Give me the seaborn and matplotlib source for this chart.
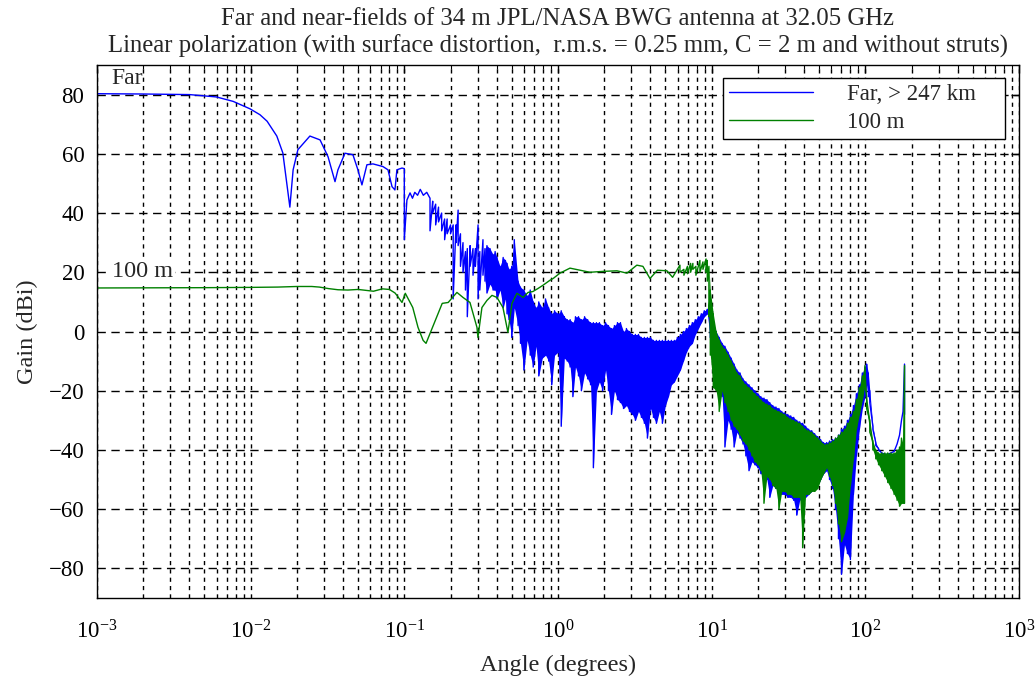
import numpy as np
import pandas as pd
import seaborn as sns
import matplotlib
matplotlib.use("Agg")
import matplotlib.pyplot as plt
from matplotlib.ticker import LogLocator, FixedLocator, NullFormatter

# Far field (> 247 km). angle in degrees, gain in dBi.
# hi / lo = top and bottom of the trace at that angle (same value where the trace is a single line)
far_angle = [0.001, 0.002, 0.004, 0.006, 0.0077, 0.0099, 0.0115, 0.0128, 0.0148, 0.0162,
             0.0175, 0.018, 0.0189, 0.0203, 0.0243, 0.0283, 0.0319, 0.0354, 0.037, 0.0411,
             0.0463, 0.0499, 0.053, 0.0571, 0.0625, 0.0726, 0.0783, 0.0832, 0.0869, 0.0895,
             0.0966, 0.1, 0.104, 0.109, 0.113, 0.117, 0.122, 0.127, 0.133, 0.14,
             0.147, 0.153, 0.16, 0.167, 0.175, 0.183, 0.19, 0.2, 0.208, 0.217,
             0.224, 0.232, 0.241, 0.25, 0.257, 0.268, 0.28, 0.29, 0.302, 0.31,
             0.325, 0.335, 0.345, 0.361, 0.378, 0.39, 0.401, 0.42, 0.44, 0.455,
             0.466, 0.48, 0.5, 0.52, 0.55, 0.57, 0.6, 0.63, 0.66, 0.69,
             0.72, 0.75, 0.79, 0.83, 0.87, 0.91, 0.95, 1.0, 1.05, 1.1,
             1.15, 1.2, 1.25, 1.3, 1.36, 1.42, 1.49, 1.56, 1.63, 1.7,
             1.78, 1.86, 1.95, 2.04, 2.13, 2.23, 2.33, 2.44, 2.55, 2.67,
             2.79, 2.92, 3.05, 3.19, 3.34, 3.49, 3.65, 3.82, 4.0, 4.18,
             4.37, 4.57, 4.78, 5.0, 5.23, 5.47, 5.72, 5.98, 6.26, 6.55,
             6.85, 7.16, 7.49, 7.83, 8.19, 8.57, 8.96, 9.37, 9.8, 10.25,
             10.7, 11.2, 11.7, 12.2, 12.8, 13.4, 14.0, 14.6, 15.3, 16.0,
             16.7, 17.5, 18.3, 19.1, 20.0, 20.9, 21.9, 22.9, 23.9, 25.0,
             26.2, 27.4, 28.6, 29.9, 31.3, 32.7, 34.2, 35.8, 37.4, 39.1,
             40.9, 42.8, 44.8, 46.8, 49.0, 51.2, 53.5, 56.0, 58.5, 61.2,
             64.0, 66.9, 70.0, 73.2, 76.5, 80.0, 83.7, 87.5, 91.5, 95.7,
             99.5, 102, 104.6, 107, 112, 117, 122, 128, 134, 140,
             147, 154, 161, 167, 172, 176, 180]
far_hi = [80.3, 80.2, 80.0, 79.2, 77.7, 75.2, 73.2, 71.0, 66.0, 60.3,
          47.0, 42.0, 54.6, 61.4, 66.0, 64.7, 59.0, 50.6, 54.6, 60.2,
          59.7, 54.6, 49.5, 56.3, 56.6, 55.7, 54.6, 48.9, 47.8, 54.6,
          55.2, 55.0, 44.4, 46.8, 45.0, 47.0, 46.0, 48.0, 46.0, 47.0,
          45.0, 44.0, 43.0, 42.0, 40.0, 38.0, 38.0, 36.0, 36.0, 36.0,
          41.0, 33.0, 30.0, 27.0, 28.0, 29.0, 28.0, 28.0, 36.0, 27.0,
          31.0, 28.0, 29.0, 28.0, 26.0, 27.0, 25.0, 22.0, 25.0, 24.0,
          23.0, 21.0, 22.0, 31.0, 17.0, 15.0, 14.0, 12.0, 14.0, 10.0,
          8.0, 10.0, 8.0, 11.0, 8.0, 6.0, 7.0, 6.0, 7.0, 5.0,
          4.0, 4.0, 3.0, 5.0, 5.0, 4.0, 5.0, 4.0, 3.0, 3.0,
          3.0, 3.0, 2.0, 3.0, 2.0, 1.0, 2.0, 3.0, 3.0, 0.0,
          1.0, 0.0, -1.0, -1.0, -1.0, -2.0, -2.0, -2.0, -2.0, -3.0,
          -3.0, -3.0, -3.0, -3.0, -3.0, -3.0, -3.0, -2.0, -1.0, 0.0,
          1.0, 2.0, 3.0, 4.0, 5.0, 6.0, 7.0, 7.5, 6.0, 3.0,
          0.0, -2.0, -4.0, -5.0, -7.0, -9.0, -11.0, -13.0, -14.0, -16.0,
          -17.0, -18.0, -19.0, -20.0, -21.0, -22.0, -22.5, -23.0, -24.0, -25.0,
          -25.5, -26.0, -27.0, -27.5, -28.0, -28.5, -29.0, -30.0, -30.5, -31.0,
          -32.0, -33.0, -33.5, -34.5, -35.5, -36.5, -37.5, -37.5, -37.0, -36.5,
          -36.0, -35.0, -33.0, -32.0, -30.0, -28.0, -25.0, -21.0, -18.0, -14.0,
          -12.0, -11.0, -14.0, -20.0, -32.0, -37.5, -39.5, -41.0, -41.5, -41.5,
          -41.0, -40.5, -38.0, -35.0, -30.0, -27.0, -11.0]
far_lo = [80.3, 80.2, 80.0, 79.2, 77.7, 75.2, 73.2, 71.0, 66.0, 60.3,
          47.0, 42.0, 54.6, 61.4, 66.0, 64.7, 59.0, 50.6, 54.6, 60.2,
          59.7, 54.6, 49.5, 56.3, 56.6, 55.7, 54.6, 48.9, 47.8, 54.6,
          55.2, 31.0, 44.4, 46.8, 45.0, 47.0, 46.0, 48.0, 46.0, 47.0,
          34.0, 40.0, 36.0, 37.0, 34.0, 31.0, 33.0, 33.0, 11.0, 30.0,
          29.0, 22.0, 20.0, 14.0, 5.0, 22.0, 19.0, 22.0, 11.0, 14.0,
          19.0, 17.0, 13.0, 16.0, 14.0, 14.0, 11.0, 14.0, 8.0, 11.0,
          6.0, 4.0, -2.0, 8.0, 2.0, -4.0, -13.0, -3.0, -8.0, -12.0,
          -5.0, -15.0, -9.0, -8.0, -10.0, -18.0, -8.0, -7.0, -32.0, -9.0,
          -10.0, -12.0, -22.0, -12.0, -15.0, -20.0, -14.0, -16.0, -18.0, -46.0,
          -20.0, -17.0, -20.0, -13.0, -20.0, -28.0, -20.0, -23.0, -24.0, -26.0,
          -25.0, -27.0, -28.0, -30.0, -27.0, -29.0, -31.0, -36.0, -26.0, -29.0,
          -31.0, -27.0, -31.0, -25.0, -22.0, -18.0, -17.0, -15.0, -13.0, -10.0,
          -7.0, -5.0, -4.0, -1.0, 1.0, 3.0, 5.0, 6.0, -2.0, -12.0,
          -16.0, -18.0, -22.0, -39.0, -30.0, -33.0, -39.0, -34.0, -36.0, -38.0,
          -42.0, -47.0, -44.0, -45.0, -46.0, -48.0, -49.0, -50.0, -56.0, -52.0,
          -53.0, -54.0, -55.0, -55.0, -56.0, -56.0, -57.0, -62.0, -57.0, -56.0,
          -56.0, -55.0, -54.0, -53.0, -52.0, -50.0, -48.0, -47.0, -50.0, -53.0,
          -60.0, -70.0, -82.0, -72.0, -75.0, -77.0, -55.0, -42.0, -33.0, -26.0,
          -22.0, -18.0, -22.0, -24.0, -33.0, -38.5, -40.0, -41.0, -41.5, -41.5,
          -41.0, -40.5, -38.0, -35.0, -30.0, -27.0, -28.0]

# Near field (100 m)
near_angle = [0.001, 0.005, 0.01, 0.015, 0.02, 0.025, 0.028, 0.032, 0.037, 0.043,
              0.05, 0.056, 0.063, 0.072, 0.08, 0.087, 0.0895, 0.0966, 0.1015, 0.1135,
              0.1228, 0.1326, 0.1385, 0.147, 0.159, 0.1765, 0.193, 0.22, 0.241, 0.2675,
              0.297, 0.3015, 0.32, 0.345, 0.372, 0.401, 0.4385, 0.4725, 0.502, 0.541,
              0.592, 0.639, 0.687, 0.74, 0.798, 0.887, 0.93, 1.03, 1.197, 1.39,
              1.615, 1.96, 2.42, 2.81, 3.26, 3.57, 3.97, 4.44, 5.12, 5.57,
              6.22, 6.6, 6.96, 7.3, 7.55, 7.9, 8.39, 8.78, 9.2, 9.37,
              9.6, 9.8, 10.25, 10.7, 11.2, 11.7, 12.2, 12.8, 13.4, 14.0,
              14.6, 15.3, 16.0, 16.7, 17.5, 18.3, 19.1, 20.0, 20.9, 21.9,
              22.9, 23.9, 25.0, 26.2, 27.4, 28.6, 29.9, 31.3, 32.7, 34.2,
              35.8, 37.4, 39.1, 40.9, 42.8, 44.8, 46.8, 49.0, 51.2, 53.5,
              56.0, 58.5, 61.2, 64.0, 66.9, 70.0, 73.2, 76.5, 80.0, 83.7,
              87.5, 91.5, 95.7, 99.5, 102, 107, 112, 117, 122, 128,
              134, 140, 147, 154, 161, 167, 172, 176, 180]
near_hi = [14.7, 14.8, 14.9, 15.0, 15.2, 15.2, 15.0, 14.5, 14.1, 14.0,
           14.2, 13.9, 13.6, 14.4, 14.2, 13.0, 12.2, 9.8, 12.9, 8.1,
           1.4, -3.0, -4.0, -0.7, 3.7, 9.5, 9.8, 13.2, 11.5, 9.8,
           1.4, -2.0, 8.1, 10.5, 12.2, 11.5, 8.1, -0.3, 9.5, 12.9,
           11.5, 13.2, 13.5, 14.5, 15.6, 17.3, 17.9, 19.7, 21.4, 20.7,
           20.0, 20.3, 20.5, 19.7, 22.4, 22.0, 17.9, 20.7, 20.5, 18.3,
           22.4, 21.0, 22.0, 23.0, 23.0, 22.0, 24.0, 23.5, 24.5, 24.0,
           22.0, 14.0, 6.0, 0.0, -3.0, -5.0, -6.0, -8.0, -10.0, -12.0,
           -14.0, -15.0, -17.0, -18.0, -19.0, -20.0, -21.0, -22.0, -23.0, -24.0,
           -24.5, -25.0, -26.0, -26.5, -27.0, -27.5, -28.0, -29.0, -29.5, -30.0,
           -30.5, -31.0, -32.0, -33.0, -33.5, -34.0, -35.0, -36.0, -37.0, -38.0,
           -38.0, -37.5, -37.0, -36.0, -35.0, -34.0, -33.0, -31.0, -29.0, -27.0,
           -23.0, -19.0, -15.0, -11.5, -22.0, -30.0, -37.0, -40.0, -41.0, -41.0,
           -41.0, -41.0, -41.0, -41.0, -40.0, -39.0, -36.0, -38.0, -11.5]
near_lo = [14.7, 14.8, 14.9, 15.0, 15.2, 15.2, 15.0, 14.5, 14.1, 14.0,
           14.2, 13.9, 13.6, 14.4, 14.2, 13.0, 12.2, 9.8, 12.9, 8.1,
           1.4, -3.0, -4.0, -0.7, 3.7, 9.5, 9.8, 13.2, 11.5, 9.8,
           1.4, -2.0, 8.1, 10.5, 12.2, 11.5, 8.1, -0.3, 9.5, 12.9,
           11.5, 13.2, 13.5, 14.5, 15.6, 17.3, 17.9, 19.7, 21.4, 20.7,
           20.0, 20.3, 20.5, 19.7, 22.4, 22.0, 17.9, 20.7, 20.5, 18.3,
           20.0, 19.0, 19.5, 20.0, 21.0, 19.0, 20.0, 21.0, 20.0, 17.0,
           5.0, -8.0, -19.0, -20.0, -27.0, -20.0, -24.0, -27.0, -30.0, -32.0,
           -33.0, -35.0, -37.0, -38.0, -40.0, -42.0, -44.0, -45.0, -47.0, -58.0,
           -49.0, -50.0, -52.0, -53.0, -60.0, -54.0, -54.0, -55.0, -55.0, -56.0,
           -56.0, -56.0, -73.0, -55.0, -55.0, -54.0, -54.0, -53.0, -50.0, -48.0,
           -46.0, -49.0, -52.0, -58.0, -65.0, -71.0, -68.0, -63.0, -52.0, -43.0,
           -33.0, -28.0, -23.0, -18.0, -26.0, -34.0, -40.0, -43.0, -45.0, -47.0,
           -49.0, -51.0, -53.0, -55.0, -57.0, -59.0, -58.0, -58.0, -58.0]

x_ticks = [1e-3, 1e-2, 1e-1, 1e0, 1e1, 1e2, 1e3]
x_tick_labels = [r"$10^{-3}$", r"$10^{-2}$", r"$10^{-1}$", r"$10^{0}$",
                 r"$10^{1}$", r"$10^{2}$", r"$10^{3}$"]
y_ticks = [-80, -60, -40, -20, 0, 20, 40, 60, 80]
y_tick_labels = ["\u221280", "\u221260", "\u221240", "\u221220", "0", "20", "40", "60", "80"]

sns.set_style("white")
plt.rcParams["font.family"] = ["Liberation Serif", "DejaVu Serif"]
plt.rcParams["mathtext.fontset"] = "custom"
plt.rcParams["mathtext.rm"] = "Liberation Serif"
plt.rcParams["mathtext.it"] = "Liberation Serif:italic"


def trace(angle, hi, lo):
    # each angle is visited twice: top edge then bottom edge
    a = np.asarray(angle, dtype=float)
    return pd.DataFrame({"angle": np.repeat(a, 2),
                         "gain": np.column_stack([hi, lo]).ravel()})


far = trace(far_angle, far_hi, far_lo)
near = trace(near_angle, near_hi, near_lo)

fig = plt.figure(figsize=(10.35, 6.84), dpi=100)
ax = fig.add_axes([0.0937, 0.1257, 0.8908, 0.7793])
ax.set_xscale("log")

blue = "#0000ff"
green = "#008000"

sns.lineplot(data=far, x="angle", y="gain", sort=False, estimator=None,
             color=blue, lw=1.0, ax=ax, label="Far, > 247 km    ", zorder=3)
fa = np.asarray(far_angle)
ax.fill_between(fa, far_lo, far_hi, where=fa >= 0.33, color=blue, lw=0, zorder=3)

sns.lineplot(data=near, x="angle", y="gain", sort=False, estimator=None,
             color=green, lw=1.0, ax=ax, label="100 m", zorder=4)
na = np.asarray(near_angle)
ax.fill_between(na, near_lo, near_hi, where=na >= 9.5, color=green, lw=0, zorder=4)

ax.set_xlim(1e-3, 1e3)
ax.set_ylim(-90, 90)
ax.xaxis.set_major_locator(FixedLocator(x_ticks))
ax.set_xticklabels(x_tick_labels)
ax.xaxis.set_minor_locator(LogLocator(base=10, subs=np.arange(2, 10), numticks=20))
ax.xaxis.set_minor_formatter(NullFormatter())
ax.set_yticks(y_ticks)
ax.set_yticklabels(y_tick_labels)

ax.tick_params(which="both", direction="in", top=True, right=True, colors="black",
               labelsize=16.5)
ax.tick_params(which="major", length=6, width=1)
ax.tick_params(which="minor", length=3, width=0.8)
ax.tick_params(axis="x", pad=16)
ax.tick_params(axis="y", pad=9)

ax.grid(True, which="major", axis="y", color="black", lw=1.0, linestyle=(0, (6, 4)))
ax.grid(True, which="both", axis="x", color="black", lw=1.0, linestyle=(0, (3, 3)))
ax.set_axisbelow(True)
for s in ax.spines.values():
    s.set_color("black")
    s.set_linewidth(1.0)
    s.set_zorder(6)

ax.set_xlabel("Angle (degrees)", fontsize=17.5, labelpad=8)
ax.set_ylabel("Gain (dBi)", fontsize=17.5, labelpad=8)
ax.set_title("Far and near-fields of 34 m JPL/NASA BWG antenna at 32.05 GHz\n"
             "Linear polarization (with surface distortion,  r.m.s. = 0.25 mm, C = 2 m and without struts)",
             fontsize=17.8, pad=9, linespacing=1.25)

ax.text(0.00124, 85.3, "Far", fontsize=17, va="center", ha="left", zorder=7)
ax.text(0.00126, 20.3, "100 m", fontsize=17.5, va="center", ha="left", zorder=7,
        bbox=dict(facecolor="white", edgecolor="none", pad=1))

leg = ax.legend(loc="upper right", bbox_to_anchor=(0.985, 0.976), borderaxespad=0,
                fontsize=16.5, handlelength=3.7, handletextpad=1.48, frameon=True,
                fancybox=False, edgecolor="black", framealpha=1, borderpad=0.25,
                labelspacing=0.33)
leg.get_frame().set_linewidth(1.0)
leg.set_zorder(8)
for line in leg.get_lines():
    line.set_linewidth(1.0)

fig.savefig("out.png", dpi=100)
